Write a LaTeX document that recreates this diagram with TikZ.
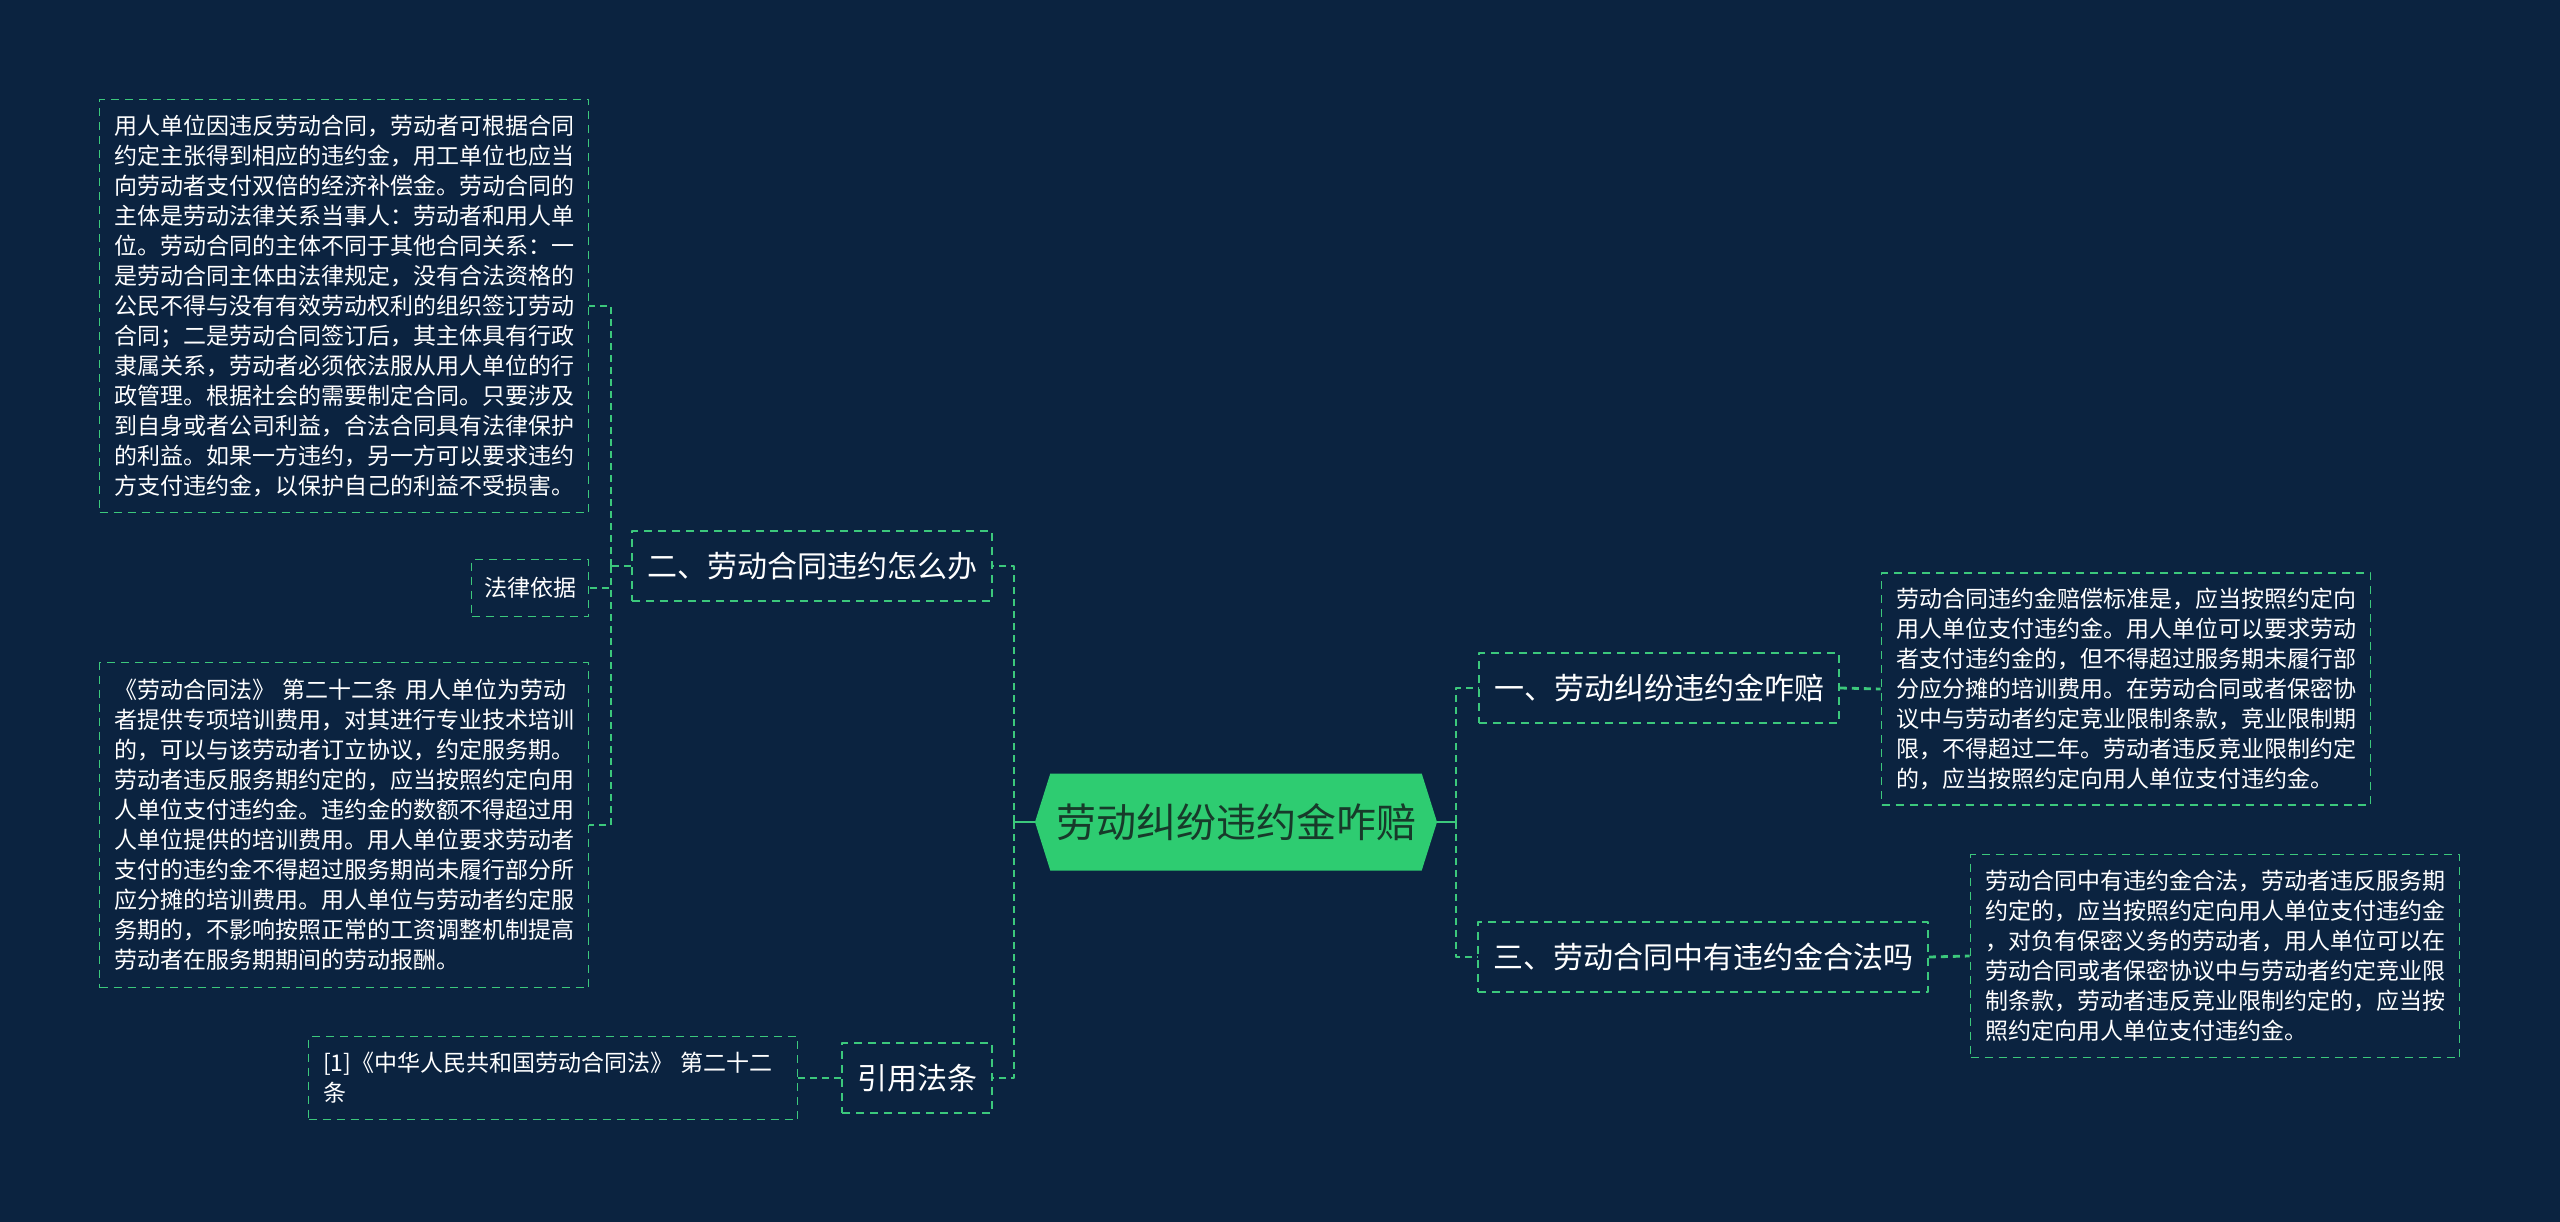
\documentclass[tikz,border=0pt]{standalone}
\usepackage{fontspec}
\setmainfont{Noto Sans CJK SC}
\usetikzlibrary{shapes.symbols}
\definecolor{bgcol}{HTML}{0B2340}
\definecolor{lnkcol}{HTML}{3CC87C}
\definecolor{rootfill}{HTML}{2ECC71}
\definecolor{roottext}{HTML}{173A2A}
\begin{document}
\begin{tikzpicture}[x=1pt,y=-1pt,line join=bevel]
  \tikzstyle{dashbox}=[draw=lnkcol,dash pattern=on 8pt off 6pt,line width=1.8pt,text=white]
  \tikzstyle{branch}=[dashbox,minimum height=70pt,inner xsep=15pt,font=\fontsize{30}{36}\selectfont]
  \tikzstyle{leaf}=[dashbox,align=left,text width=460pt,inner xsep=14.5pt,font=\fontsize{23}{30}\selectfont]
  \tikzstyle{link}=[draw=lnkcol,dash pattern=on 7pt off 5pt,line width=2.8pt]
  \fill[bgcol] (0,0) rectangle (2560,1222);
  \useasboundingbox (0,0) rectangle (2560,1222);
  % root
  \node[signal,signal to=east and west,signal pointer angle=145,fill=rootfill,text=roottext,
        minimum width=402pt,minimum height=97pt,font=\fontsize{40}{46}\selectfont] (R) at (1236,822) {劳动纠纷违约金咋赔};
  % right side
  \node[branch] (B_1) at (1659,688) {一、劳动纠纷违约金咋赔};
  \node[branch] (B_3) at (1703,957) {三、劳动合同中有违约金合法吗};
  \node[leaf,minimum height=232pt] (D_1) at (2126,689) {劳动合同违约金赔偿标准是，应当按照约定向\\用人单位支付违约金。用人单位可以要求劳动\\者支付违约金的，但不得超过服务期未履行部\\分应分摊的培训费用。在劳动合同或者保密协\\议中与劳动者约定竞业限制条款，竞业限制期\\限，不得超过二年。劳动者违反竞业限制约定\\的，应当按照约定向用人单位支付违约金。};
  \node[leaf,minimum height=203pt] (D_3) at (2215,956) {劳动合同中有违约金合法，劳动者违反服务期\\约定的，应当按照约定向用人单位支付违约金\\，对负有保密义务的劳动者，用人单位可以在\\劳动合同或者保密协议中与劳动者约定竞业限\\制条款，劳动者违反竞业限制约定的，应当按\\照约定向用人单位支付违约金。};
  % left side
  \node[branch] (B_2) at (812,566) {二、劳动合同违约怎么办};
  \node[branch] (B_4) at (917,1078) {引用法条};
  \node[dashbox,minimum height=57pt,inner xsep=12.5pt,font=\fontsize{23}{30}\selectfont] (L) at (530,588) {法律依据};
  \node[leaf,minimum height=413pt] (D_2a) at (344,306) {用人单位因违反劳动合同，劳动者可根据合同\\约定主张得到相应的违约金，用工单位也应当\\向劳动者支付双倍的经济补偿金。劳动合同的\\主体是劳动法律关系当事人：劳动者和用人单\\位。劳动合同的主体不同于其他合同关系：一\\是劳动合同主体由法律规定，没有合法资格的\\公民不得与没有有效劳动权利的组织签订劳动\\合同；二是劳动合同签订后，其主体具有行政\\隶属关系，劳动者必须依法服从用人单位的行\\政管理。根据社会的需要制定合同。只要涉及\\到自身或者公司利益，合法合同具有法律保护\\的利益。如果一方违约，另一方可以要求违约\\方支付违约金，以保护自己的利益不受损害。};
  \node[leaf,minimum height=325pt] (D_2b) at (344,825) {《劳动合同法》 第二十二条 用人单位为劳动\\者提供专项培训费用，对其进行专业技术培训\\的，可以与该劳动者订立协议，约定服务期。\\劳动者违反服务期约定的，应当按照约定向用\\人单位支付违约金。违约金的数额不得超过用\\人单位提供的培训费用。用人单位要求劳动者\\支付的违约金不得超过服务期尚未履行部分所\\应分摊的培训费用。用人单位与劳动者约定服\\务期的，不影响按照正常的工资调整机制提高\\劳动者在服务期期间的劳动报酬。};
  \node[leaf,minimum height=83pt] (D_4) at (553,1078) {[1]《中华人民共和国劳动合同法》 第二十二\\条};
  % connectors
  \coordinate (RJ) at (1456,822);
  \coordinate (LJ) at (1014,822);
  \coordinate (BJ) at (611,566);
  \draw[lnkcol,line width=2.8pt] (R.east) -- (RJ);
  \draw[lnkcol,line width=2.8pt] (R.west) -- (LJ);
  \draw[link] (RJ) |- (B_1.west);
  \draw[link] (RJ) |- (B_3.west);
  \draw[link] (LJ) |- (B_2.east);
  \draw[link] (LJ) |- (B_4.east);
  \draw[link] (B_1.east) -- (D_1.west);
  \draw[link] (B_3.east) -- (D_3.west);
  \draw[link] (B_4.west) -- (D_4.east);
  \draw[link] (B_2.west) -- (BJ);
  \draw[link] (BJ) |- (D_2a.east);
  \draw[link] (BJ) |- (L.east);
  \draw[link] (BJ) |- (D_2b.east);
\end{tikzpicture}
\end{document}
